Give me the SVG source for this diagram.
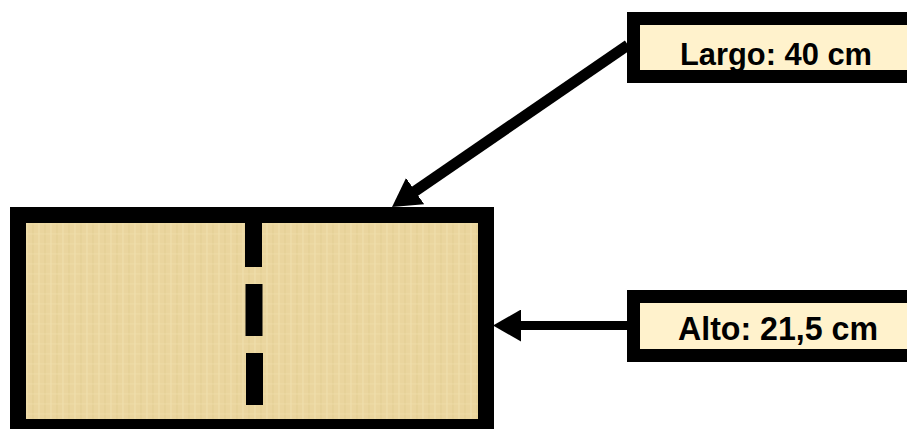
<svg xmlns="http://www.w3.org/2000/svg" width="907" height="429" viewBox="0 0 907 429">
  <style>
    .label-box { fill: #FFF2CC; stroke: #000; stroke-width: 13; }
    .label-text { font-family: "Liberation Sans", Arial, sans-serif; font-weight: bold; fill: #000; }
    .conn { stroke: #000; fill: none; }
  </style>
  <defs>
    <marker id="arrow" markerUnits="userSpaceOnUse" markerWidth="28" markerHeight="32" refX="13" refY="16" orient="auto">
      <path d="M0,0 L28,16 L0,32 z" fill="#000"/>
    </marker>
    <pattern id="papyrus" patternUnits="userSpaceOnUse" width="12" height="10">
      <rect width="12" height="10" fill="#EAD59E"/>
      <line x1="3" y1="0" x2="3" y2="10" stroke="#F3E3B6" stroke-width="1" opacity="0.7"/>
      <line x1="9" y1="0" x2="9" y2="10" stroke="#DCC587" stroke-width="1" opacity="0.5"/>
      <line x1="0" y1="4" x2="12" y2="4" stroke="#F1DFAE" stroke-width="1" opacity="0.6"/>
    </pattern>
  </defs>

  <g id="paper">
    <rect x="18" y="215" width="468" height="212" fill="url(#papyrus)" stroke="#000" stroke-width="16"/>
    <rect x="245" y="222" width="17" height="45" fill="#000"/>
    <rect x="245.5" y="284" width="17" height="52" fill="#000"/>
    <rect x="246" y="353" width="17" height="52" fill="#000"/>
  </g>

  <g id="largo">
    <rect class="label-box" x="633.5" y="18.5" width="290" height="58"/>
    <text class="label-text" x="680" y="65" font-size="32" textLength="192" lengthAdjust="spacingAndGlyphs">Largo: 40 cm</text>
  </g>

  <g id="alto">
    <rect class="label-box" x="633.5" y="296.5" width="290" height="59"/>
    <text class="label-text" x="678" y="340" font-size="33" textLength="200" lengthAdjust="spacingAndGlyphs">Alto: 21,5 cm</text>
  </g>

  <g id="connectors">
    <line class="conn" x1="628" y1="45" x2="404.4" y2="198.5" stroke-width="11" marker-end="url(#arrow)"/>
    <line class="conn" x1="628" y1="325.5" x2="508" y2="325.5" stroke-width="9" marker-end="url(#arrow)"/>
  </g>
</svg>
